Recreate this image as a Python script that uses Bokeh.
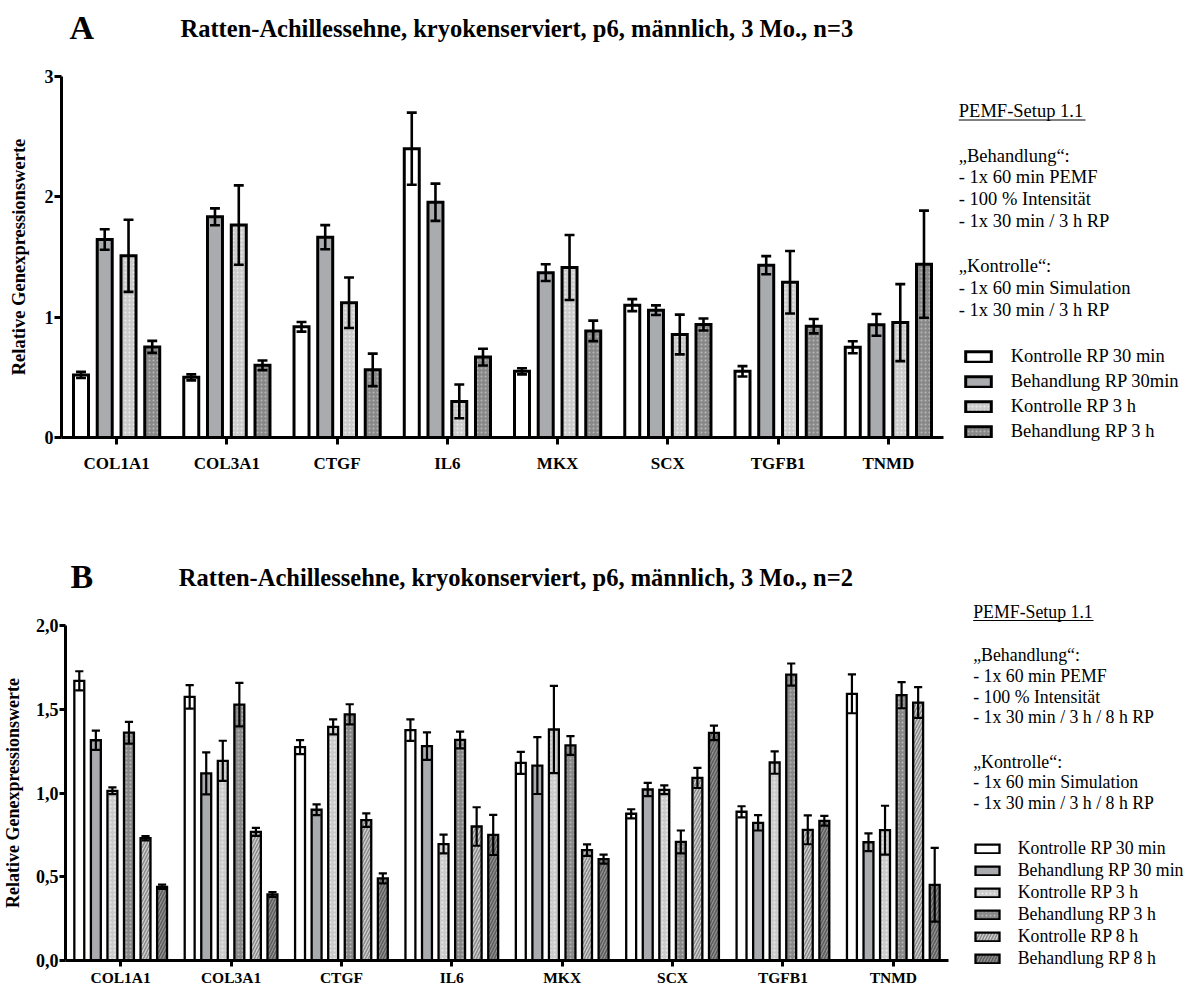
from bokeh.plotting import figure
from bokeh.models import (FactorRange, Range1d, FixedTicker, Label, Legend, LegendItem,
                          ColumnDataSource)
from bokeh.transform import dodge
from bokeh.layouts import column, row
from bokeh.embed import file_html
from bokeh.resources import INLINE
import math

# ---------------- data ----------------
genes = ["COL1A1", "COL3A1", "CTGF", "IL6", "MKX", "SCX", "TGFB1", "TNMD"]

# Panel A (n=3)
a_names = ["Kontrolle RP 30 min", "Behandlung RP 30min", "Kontrolle RP 3 h", "Behandlung RP 3 h"]
a_k30 = [0.52, 0.50, 0.92, 2.40, 0.55, 1.10, 0.55, 0.75]
a_k30_err = [0.025, 0.025, 0.04, 0.30, 0.025, 0.05, 0.043, 0.05]
a_b30 = [1.645, 1.834, 1.665, 1.955, 1.37, 1.058, 1.432, 0.936]
a_b30_err = [0.085, 0.07, 0.10, 0.155, 0.07, 0.04, 0.075, 0.09]
a_k3 = [1.51, 1.765, 1.12, 0.30, 1.413, 0.856, 1.29, 0.955]
a_k3_err = [0.30, 0.33, 0.21, 0.14, 0.27, 0.165, 0.26, 0.32]
a_b3 = [0.753, 0.60, 0.562, 0.668, 0.886, 0.939, 0.925, 1.44]
a_b3_err = [0.05, 0.04, 0.135, 0.07, 0.085, 0.05, 0.06, 0.445]

# Panel B (n=2)
b_names = ["Kontrolle RP 30 min", "Behandlung RP 30 min", "Kontrolle RP 3 h",
           "Behandlung RP 3 h", "Kontrolle RP 8 h", "Behandlung RP 8 h"]
b_k30 = [1.67, 1.574, 1.274, 1.375, 1.18, 0.876, 0.888, 1.592]
b_k30_err = [0.057, 0.07, 0.042, 0.064, 0.066, 0.027, 0.033, 0.116]
b_b30 = [1.315, 1.117, 0.90, 1.28, 1.164, 1.021, 0.822, 0.706]
b_b30_err = [0.057, 0.125, 0.032, 0.082, 0.17, 0.04, 0.046, 0.053]
b_k3 = [1.013, 1.192, 1.395, 0.695, 1.379, 1.019, 1.182, 0.778]
b_k3_err = [0.02, 0.12, 0.045, 0.056, 0.26, 0.026, 0.067, 0.146]
b_b3 = [1.36, 1.528, 1.47, 1.317, 1.284, 0.708, 1.707, 1.584]
b_b3_err = [0.065, 0.13, 0.06, 0.05, 0.056, 0.068, 0.066, 0.078]
b_k8 = [0.73, 0.768, 0.838, 0.80, 0.659, 1.09, 0.78, 1.54]
b_k8_err = [0.013, 0.024, 0.04, 0.115, 0.034, 0.06, 0.086, 0.092]
b_b8 = [0.44, 0.394, 0.49, 0.75, 0.605, 1.359, 0.834, 0.452]
b_b8_err = [0.013, 0.015, 0.03, 0.12, 0.027, 0.043, 0.029, 0.22]

a_ticks = [0, 1, 2, 3]
b_ticks = [0, 0.5, 1.0, 1.5, 2.0]
b_tick_labels = ["0,0", "0,5", "1,0", "1,5", "2,0"]

title_a = "Ratten-Achillessehne, kryokenserviert, p6, männlich, 3 Mo., n=3"
title_b = "Ratten-Achillessehne, kryokonserviert, p6, männlich, 3 Mo., n=2"
ylab = "Relative Genexpressionswerte"
notes_a = ["\u201eBehandlung\u201c:", "- 1x 60 min PEMF", "- 100 % Intensität", "- 1x 30 min / 3 h RP",
           "\u201eKontrolle\u201c:", "- 1x 60 min Simulation", "- 1x 30 min / 3 h RP"]
notes_b = ["\u201eBehandlung\u201c:", "- 1x 60 min PEMF", "- 100 % Intensität", "- 1x 30 min / 3 h / 8 h RP",
           "\u201eKontrolle\u201c:", "- 1x 60 min Simulation", "- 1x 30 min / 3 h / 8 h RP"]
setup = "PEMF-Setup 1.1"

SERIF = "Liberation Serif"
NAN = float("nan")

STYLES = [
    dict(fill_color="white"),
    dict(fill_color="#a9abae"),
    dict(fill_color="#cbcbcb", hatch_pattern="dot", hatch_color="#ebebeb", hatch_scale=4, hatch_weight=0.6),
    dict(fill_color="#888888", hatch_pattern="dot", hatch_color="#b8b8b8", hatch_scale=4, hatch_weight=0.7),
    dict(fill_color="#d0d0d0", hatch_pattern="/", hatch_color="#8a8a8a", hatch_scale=6, hatch_weight=1.5),
    dict(fill_color="#909090", hatch_pattern="/", hatch_color="#5c5c5c", hatch_scale=6, hatch_weight=1.5),
]


def canvas(x0, x1, top, bottom, f_top=None, f_bottom=None):
    """Blank figure whose data coordinates equal page pixels (frame spans f_top..f_bottom)."""
    f_top = top if f_top is None else f_top
    f_bottom = bottom if f_bottom is None else f_bottom
    p = figure(width=x1 - x0, height=bottom - top, x_range=Range1d(x0, x1),
               y_range=Range1d(f_bottom, f_top), output_backend="svg", toolbar_location=None,
               min_border_left=0, min_border_right=0, min_border_top=f_top - top,
               min_border_bottom=bottom - f_bottom,
               x_axis_location=None, y_axis_location=None, title=None)
    p.grid.visible = False
    p.outline_line_color = None
    return p


def put(p, x, y, text, size, bold=False, angle=0.0, align="left"):
    p.add_layout(Label(x=x, y=y, text=text, text_font=SERIF, text_font_size=size,
                       text_font_style="bold" if bold else "normal", angle=angle,
                       text_color="black", text_baseline="middle", text_align=align))


def chart(width, height, bl, bt, bb, br, ymax, ticks, overrides, series, errs,
          offsets, bar_w, cap, bar_lw, err_lw, xfont, xstand, tick_out):
    p = figure(width=width, height=height, x_range=FactorRange(*genes, range_padding=0),
               y_range=Range1d(0, ymax), output_backend="svg", toolbar_location=None, title=None,
               min_border_left=bl, min_border_top=bt, min_border_bottom=bb, min_border_right=br)
    p.outline_line_color = None
    p.grid.visible = False

    data = dict(gene=genes)
    for i, (v, e) in enumerate(zip(series, errs)):
        data[f"v{i}"] = v
        data[f"lo{i}"] = [a - b for a, b in zip(v, e)]
        data[f"hi{i}"] = [a + b for a, b in zip(v, e)]
    src = ColumnDataSource(data)

    for i in range(len(series)):
        off = offsets[i]
        p.vbar(x=dodge("gene", off, range=p.x_range), top=f"v{i}", width=bar_w, bottom=0,
               source=src, line_color="black", line_width=bar_lw, line_join="miter", **STYLES[i])
        p.segment(x0=dodge("gene", off, range=p.x_range), y0=f"lo{i}",
                  x1=dodge("gene", off, range=p.x_range), y1=f"hi{i}",
                  source=src, line_color="black", line_width=err_lw)
        for key in ("lo", "hi"):
            p.segment(x0=dodge("gene", off - cap, range=p.x_range), y0=f"{key}{i}",
                      x1=dodge("gene", off + cap, range=p.x_range), y1=f"{key}{i}",
                      source=src, line_color="black", line_width=err_lw)

    for ax in (p.xaxis[0], p.yaxis[0]):
        ax.axis_line_width = 3
        ax.axis_line_color = "black"
        ax.major_tick_line_width = 3
        ax.major_tick_in = 0
        ax.major_tick_out = tick_out
        ax.minor_tick_line_color = None
        ax.major_label_text_font = SERIF
        ax.major_label_text_font_style = "bold"
        ax.major_label_text_color = "black"
    p.xaxis.major_label_text_font_size = xfont
    p.xaxis.major_label_standoff = xstand
    p.yaxis.ticker = FixedTicker(ticks=ticks)
    if overrides:
        p.yaxis.major_label_overrides = overrides
    p.yaxis.major_label_text_font_size = "18px"
    p.yaxis.major_label_standoff = 1
    return p


def legend_box(p, names, n, loc, gw, gh, ls, lh, sp, font, lw):
    items = []
    for i in range(n):
        r = p.vbar(x=[NAN], top=[NAN], width=1, line_color="black", line_width=lw,
                   line_join="miter", **STYLES[i])
        items.append(LegendItem(label=names[i], renderers=[r]))
    lg = Legend(items=items, location=loc, orientation="vertical", glyph_width=gw, glyph_height=gh,
                label_standoff=ls, label_height=lh, spacing=sp, padding=0, margin=0,
                border_line_color=None, background_fill_alpha=0, label_text_font=SERIF,
                label_text_font_size=font, label_text_color="black")
    p.add_layout(lg)


# ================= Panel A (left part) =================
stripA = canvas(0, 950, 0, 50)
put(stripA, 69, 26.5, "A", "34px", bold=True)
put(stripA, 180, 27.8, title_a, "24.5px", bold=True)

leftA = canvas(0, 35, 50, 494, 76, 437)
put(leftA, 18, 256.5, ylab, "18.5px", bold=True, angle=math.pi / 2, align="center")

chartA = chart(915, 444, 26, 26, 57, 7, 3, a_ticks, None,
               [a_k30, a_b30, a_k3, a_b3], [a_k30_err, a_b30_err, a_k3_err, a_b3_err],
               [-0.323, -0.108, 0.108, 0.323], 0.136, 0.045, 3, 2.6, "17px", 9, 7)

# ================= Panel B (left part) =================
stripB = canvas(0, 950, 494, 596)
put(stripB, 70, 575.5, "B", "34px", bold=True)
put(stripB, 178.3, 576.8, title_b, "24.5px", bold=True)

leftB = canvas(0, 28, 596, 988, 625, 960)
put(leftB, 12, 792.5, ylab, "18px", bold=True, angle=math.pi / 2, align="center")

chartB = chart(922, 392, 37, 29, 28, 2, 2.0, b_ticks, dict(zip(b_ticks, b_tick_labels)),
               [b_k30, b_b30, b_k3, b_b3, b_k8, b_b8],
               [b_k30_err, b_b30_err, b_k3_err, b_b3_err, b_k8_err, b_b8_err],
               [-0.375, -0.225, -0.075, 0.075, 0.225, 0.375], 0.09, 0.037, 2.3, 2.2, "15.5px", 2, 6)

# ================= right-hand notes and legends =================
rightA = canvas(950, 1194, 0, 494)
put(rightA, 958.3, 110, setup, "18.5px")
rightA.segment(x0=[958.3], y0=[119.5], x1=[1085], y1=[119.5], line_color="black", line_width=1)
for t, cy in zip(notes_a, [155, 176.5, 198.5, 220.5, 265, 287, 309]):
    put(rightA, 958.3, cy, t, "18.5px")
legend_box(rightA, a_names, 4, (961.7 - 950, 494 - 442), 32, 13, 17, 20, 4, "18.5px", 3)

rightB = canvas(950, 1194, 494, 988)
put(rightB, 972.7, 611.7, setup, "17.8px")
rightB.segment(x0=[972.7], y0=[620], x1=[1093], y1=[620], line_color="black", line_width=1)
for t, cy in zip(notes_b, [654, 675, 696.7, 716.7, 761.7, 781.7, 802.7]):
    put(rightB, 972.7, cy, t, "17.8px")
legend_box(rightB, b_names, 6, (971.7 - 950, 988 - 969), 30, 11, 16, 18, 1, "17.8px", 2.3)

left_col = column(stripA, row(leftA, chartA, spacing=0), stripB, row(leftB, chartB, spacing=0),
                  spacing=0)
right_col = column(rightA, rightB, spacing=0)
layout = row(left_col, right_col, spacing=0)
open("out.html", "w").write(file_html(layout, INLINE))
